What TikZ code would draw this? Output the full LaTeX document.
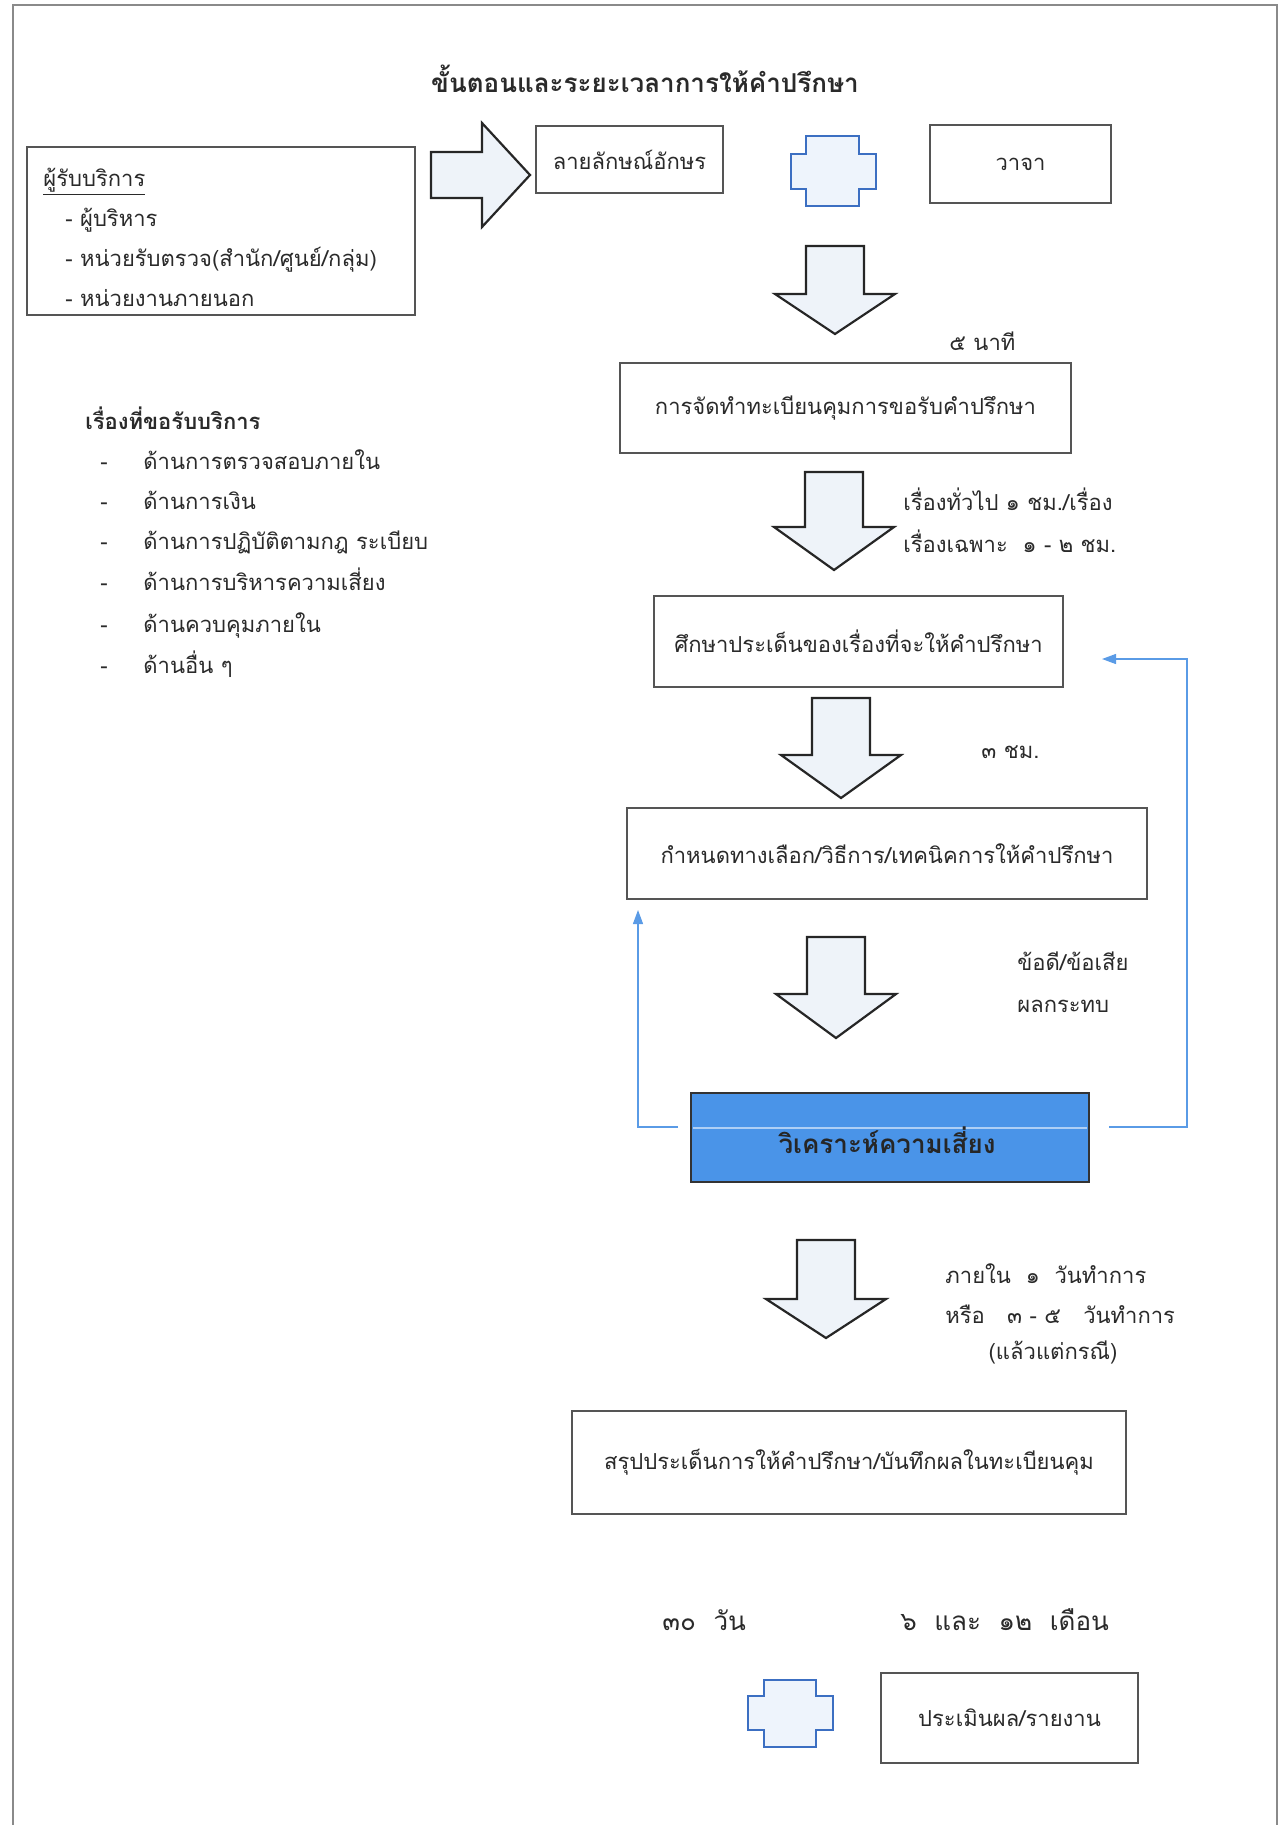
\documentclass[tikz,border=0pt]{standalone}
\usepackage{fontspec}
\setmainfont[Script=Thai]{Loma}
\usetikzlibrary{arrows.meta}
\definecolor{txt}{HTML}{2A2A2A}
\definecolor{boxline}{HTML}{555555}
\definecolor{afill}{HTML}{EEF3F9}
\definecolor{crossline}{HTML}{3C6FC2}
\definecolor{crossfill}{HTML}{EEF4FC}
\definecolor{fbcol}{HTML}{5A9BE6}
\definecolor{riskfill}{HTML}{4A94E8}
\definecolor{framecol}{HTML}{8A8A8A}
\tikzset{
  pbox/.style={draw=boxline, line width=0.8pt, fill=white, text=txt, inner sep=2pt, font=\fontsize{11}{14}\selectfont},
  lbl/.style={text=txt, inner sep=0pt, font=\fontsize{11}{21}\selectfont, align=left},
  barrow/.style={draw=black!85, line width=1.1pt, fill=afill, line join=miter},
  crossst/.style={draw=crossline, line width=1.2pt, fill=crossfill},
  fbline/.style={draw=fbcol, line width=0.6pt, -{Triangle[length=7pt,width=5pt]}}
}
% #1 options, #2 name, #3 x1, #4 y1, #5 x2, #6 y2, #7 text
\newcommand\pxbox[7][]{\node[pbox,minimum width={(#5-#3)*0.5pt},minimum height={(#6-#4)*0.5pt},#1] (#2) at ({(#3+#5)/2},{(#4+#6)/2}) {#7};}
% centre x, top y, head y, tip y
\newcommand\downarr[4]{\draw[barrow] ({#1-29},#2) -- ({#1+29},#2) -- ({#1+29},#3) -- ({#1+60},#3) -- (#1,#4) -- ({#1-60},#3) -- ({#1-29},#3) -- cycle;}
% outer left, inner left, inner right, outer right, top, arm top, arm bottom, bottom
\newcommand\crossshape[8]{\draw[crossst] (#2,#5) -- (#3,#5) -- (#3,#6) -- (#4,#6) -- (#4,#7) -- (#3,#7) -- (#3,#8) -- (#2,#8) -- (#2,#7) -- (#1,#7) -- (#1,#6) -- (#2,#6) -- cycle;}
\newcommand\dashitem[1]{\makebox[21.5pt][l]{-}#1}
\begin{document}
\begin{tikzpicture}[x=0.5pt,y=-0.5pt]
\useasboundingbox (0,0) rectangle (1279,1825);
% page frame
\draw[framecol, line width=1pt] (13,1825) -- (13,5) -- (1277,5) -- (1277,1825);

% title
\node[text=txt, font=\fontsize{13}{16}\selectfont\bfseries] (title) at (645,79) {ขั้นตอนและระยะเวลาการให้คำปรึกษา};

% clients box
\pxbox{clients}{27}{147}{415}{315}{}
\node[lbl, anchor=west, font=\fontsize{11}{20}\selectfont] (clientstxt) at (43,237) {\underline{ผู้รับบริการ}\\
\hspace*{11pt}- ผู้บริหาร\\
\hspace*{11pt}- หน่วยรับตรวจ(สำนัก/ศูนย์/กลุ่ม)\\
\hspace*{11pt}- หน่วยงานภายนอก};

% right block arrow
\draw[barrow] (431,152) -- (482,152) -- (482,123) -- (530,175) -- (482,227) -- (482,198) -- (431,198) -- cycle;

\pxbox{written}{536}{126}{723}{193}{ลายลักษณ์อักษร}
\crossshape{791}{806}{859}{876}{136}{154}{189}{206}
\pxbox{verbal}{930}{125}{1111}{203}{วาจา}

% topics list
\node[lbl, anchor=west, font=\fontsize{11}{21}\selectfont\bfseries] (topics) at (85,418) {เรื่องที่ขอรับบริการ};
\node[lbl, anchor=base west] (i1) at (100,469) {\dashitem{ด้านการตรวจสอบภายใน}};
\node[lbl, anchor=base west] (i2) at (100,509) {\dashitem{ด้านการเงิน}};
\node[lbl, anchor=base west] (i3) at (100,549) {\dashitem{ด้านการปฏิบัติตามกฎ ระเบียบ}};
\node[lbl, anchor=base west] (i4) at (100,590) {\dashitem{ด้านการบริหารความเสี่ยง}};
\node[lbl, anchor=base west] (i5) at (100,632) {\dashitem{ด้านควบคุมภายใน}};
\node[lbl, anchor=base west] (i6) at (100,673) {\dashitem{ด้านอื่น ๆ}};

% flow
\downarr{835}{246}{294}{334}
\node[lbl, anchor=west] (t1) at (949,341) {๕ นาที};
\pxbox{register}{620}{363}{1071}{453}{การจัดทำทะเบียนคุมการขอรับคำปรึกษา}

\downarr{834}{472}{527}{570}
\node[lbl, anchor=west] (t2) at (903,520) {เรื่องทั่วไป ๑ ชม./เรื่อง\\เรื่องเฉพาะ~~๑ - ๒ ชม.};
\pxbox{study}{654}{596}{1063}{687}{ศึกษาประเด็นของเรื่องที่จะให้คำปรึกษา}

\downarr{841}{698}{755}{798}
\node[lbl, anchor=west] (t3) at (981,752) {๓ ชม.};
\pxbox{method}{627}{808}{1147}{899}{กำหนดทางเลือก/วิธีการ/เทคนิคการให้คำปรึกษา}

\downarr{836}{937}{994}{1038}
\node[lbl, anchor=west] (t4) at (1017,982) {ข้อดี/ข้อเสีย\\ผลกระทบ};
\pxbox[fill=riskfill, draw=black!80]{risk}{691}{1093}{1089}{1182}{}
\draw[white!55!riskfill, line width=1pt] (693,1128) -- (1087,1128);
\node[text=black!85, font=\fontsize{13}{15}\selectfont\bfseries] (risklbl) at (887,1140) {วิเคราะห์ความเสี่ยง};

% feedback connectors
\coordinate (fbLs) at (678,1127);
\coordinate (fbLe) at (638,910);
\draw[fbline] (fbLs) -| (fbLe);
\coordinate (fbRs) at (1109,1127);
\coordinate (fbRc) at (1187,659);
\coordinate (fbRe) at (1102,659);
\draw[fbline] (fbRs) -| (fbRc) -- (fbRe);

\downarr{826}{1240}{1299}{1338}
\node[lbl, anchor=west] (t5a) at (945,1274) {ภายใน~~๑~~วันทำการ};
\node[lbl, anchor=west] (t5b) at (945,1314) {หรือ~~~๓~-~๕~~~วันทำการ};
\node[lbl] (t5c) at (1053,1352) {(แล้วแต่กรณี)};
\pxbox{summary}{572}{1411}{1126}{1514}{สรุปประเด็นการให้คำปรึกษา/บันทึกผลในทะเบียนคุม}

\node[lbl, anchor=west, font=\fontsize{13}{16}\selectfont] (t6) at (662,1620) {๓๐~~วัน};
\node[lbl, anchor=west, font=\fontsize{13}{16}\selectfont] (t7) at (900,1620) {๖~~และ~~๑๒~~เดือน};
\crossshape{748}{764}{816}{833}{1680}{1696}{1730}{1747}
\pxbox{evaluate}{881}{1673}{1138}{1763}{ประเมินผล/รายงาน}
\end{tikzpicture}
\end{document}
